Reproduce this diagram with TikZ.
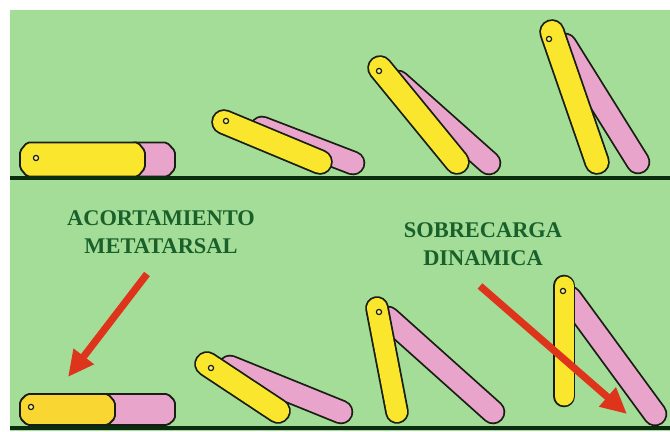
\documentclass[tikz,border=0pt]{standalone}
\usepackage{fontspec}
\setmainfont{Liberation Serif}
\usetikzlibrary{arrows.meta}
\definecolor{bg}{RGB}{163,221,152}
\definecolor{bonelin}{RGB}{25,30,20}
\definecolor{meta}{RGB}{250,230,45}
\definecolor{metaB}{RGB}{250,214,50}
\definecolor{phal}{RGB}{232,164,202}
\definecolor{groundc}{RGB}{10,45,15}
\definecolor{labelc}{RGB}{26,96,42}
\definecolor{arrowc}{RGB}{222,52,28}
\tikzset{
  bone/.style 2 args={draw=bonelin, line width=0.9pt, double=#1,
    double distance=#2, line cap=round},
  flatbone/.style={fill=#1, draw=bonelin, line width=0.9pt, rounded corners=1pt},
  hole/.style={fill=meta!60!white, draw=bonelin, line width=0.6pt},
  ground/.style={draw=groundc, line width=2pt},
  lbl/.style={text=labelc, font=\fontsize{11.2}{14}\selectfont\bfseries,
    align=center, inner sep=0pt},
  redarrow/.style={draw=arrowc, line width=3.6pt,
    -{Triangle[length=13pt,width=12pt]}}
}
\begin{document}
\begin{tikzpicture}[x=0.5pt,y=-0.5pt]
\useasboundingbox (0,0) rectangle (670,432);
\fill[white] (0,0) rectangle (670,432);
\fill[bg] (10,10) rectangle (670,431);

% ---- upper row: rising metatarsal with phalanx ----
% flat foot
\path[flatbone=phal] (132,142.5) -- (167,142.5) -- (175,151) -- (175,169)
  -- (168,176.5) -- (132,176.5) -- cycle;
\path[flatbone=meta] (27,142.5) -- (138,142.5) -- (145,151) -- (145,168)
  -- (138,176.5) -- (27,176.5) -- (20,168) -- (20,151) -- cycle;
\draw[hole] (36,158) circle[radius=1.3pt];
% slight lift
\draw[bone={phal}{10.5pt}] (262,128) -- (353,163);
\draw[bone={meta}{11pt}] (224,122) -- (320,162);
\draw[hole] (226,121) circle[radius=1.3pt];
% mid lift
\draw[bone={phal}{10.5pt}] (398,82) -- (489,163);
\draw[bone={meta}{11pt}] (380,68) -- (457,162);
\draw[hole] (379,71) circle[radius=1.3pt];
% high lift
\draw[bone={phal}{10.5pt}] (565,45) -- (638,162);
\draw[bone={meta}{11pt}] (552,32) -- (597,162);
\draw[hole] (549,39) circle[radius=1.3pt];

\draw[ground] (10,178.5) -- (670,178.5);

% ---- lower row ----
\path[flatbone=phal] (100,394) -- (168,394) -- (175,401) -- (175,419)
  -- (168,425) -- (100,425) -- cycle;
\path[flatbone=metaB] (27,394) -- (108,394) -- (115,402) -- (115,418)
  -- (108,425) -- (27,425) -- (20,418) -- (20,401) -- cycle;
\draw[hole] (31,407) circle[radius=1.3pt];

\draw[bone={phal}{10.5pt}] (230,367) -- (341,412);
\draw[bone={meta}{11pt}] (207,364) -- (278,411);
\draw[hole] (211,368) circle[radius=1.3pt];

\draw[bone={phal}{10.5pt}] (388,318) -- (493,412);
\draw[bone={meta}{10pt}] (377,308) -- (397,412);
\draw[hole] (379,312) circle[radius=1.3pt];

\draw[bone={phal}{10.5pt}] (570,298) -- (655,414);
\draw[bone={meta}{9.5pt}] (564,286) -- (564,396);
\draw[hole] (563,291) circle[radius=1.3pt];

\draw[ground] (10,428.5) -- (670,428.5);

% ---- labels and arrows ----
\node[lbl] (t1) at (161,232) {ACORTAMIENTO\\METATARSAL};
\node[lbl] (t2) at (483,244) {SOBRECARGA\\DINAMICA};

\coordinate (a1s) at (147,274);
\coordinate (a1e) at (68,377);
\coordinate (a2s) at (480,286);
\coordinate (a2e) at (627,414);
\draw[redarrow] (a1s) -- (a1e);
\draw[redarrow] (a2s) -- (a2e);
\end{tikzpicture}
\end{document}
